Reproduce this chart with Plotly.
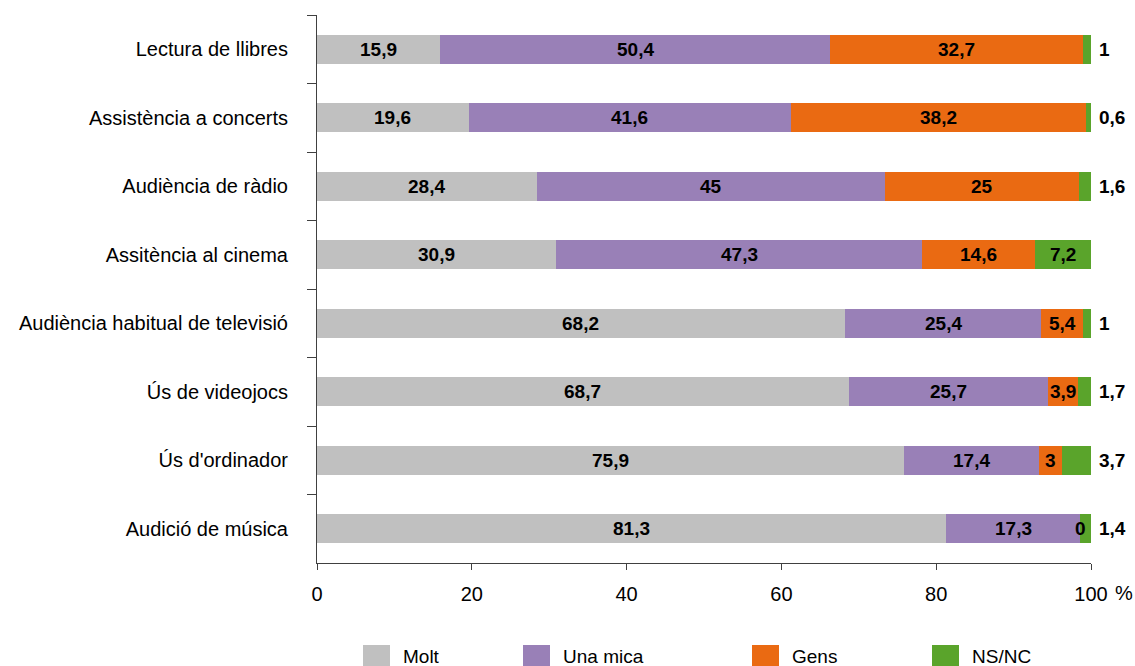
import plotly.graph_objects as go

categories = [
    "Lectura de llibres",
    "Assistència a concerts",
    "Audiència de ràdio",
    "Assitència al cinema",
    "Audiència habitual de televisió",
    "Ús de videojocs",
    "Ús d'ordinador",
    "Audició de música",
]
molt = [15.9, 19.6, 28.4, 30.9, 68.2, 68.7, 75.9, 81.3]
una_mica = [50.4, 41.6, 45, 47.3, 25.4, 25.7, 17.4, 17.3]
gens = [32.7, 38.2, 25, 14.6, 5.4, 3.9, 3, 0]
nsnc = [1, 0.6, 1.6, 7.2, 1, 1.7, 3.7, 1.4]
x_ticks = [0, 20, 40, 60, 80, 100]

series = [
    ("Molt", molt, "#C0C0C0"),
    ("Una mica", una_mica, "#9980B7"),
    ("Gens", gens, "#EA6A12"),
    ("NS/NC", nsnc, "#5AA42B"),
]

FONT = "Liberation Sans, Arial, sans-serif"
W, H = 1135, 666
ML, MR, MT, MB = 317, 44, 15, 103
PW, PH = W - ML - MR, H - MT - MB


def fmt(v):
    if float(v).is_integer():
        return str(int(v))
    return str(v).replace(".", ",")


def px_x(px):
    return (px - ML) / PW


def px_y(py):
    return (H - MB - py) / PH


fig = go.Figure()
for name, vals, col in series:
    fig.add_trace(go.Bar(
        y=categories, x=vals, name=name, orientation="h",
        marker=dict(color=col, line=dict(width=0)),
        showlegend=False,
    ))

annotations = []
for i, cat in enumerate(categories):
    start = 0
    for name, vals, col in series:
        v = vals[i]
        if name == "NS/NC" and v < 5:
            annotations.append(dict(
                x=100, y=cat, xref="x", yref="y", text="<b>%s</b>" % fmt(v),
                showarrow=False, xanchor="left", xshift=6,
                font=dict(family=FONT, size=19, color="black"),
            ))
        else:
            annotations.append(dict(
                x=start + v / 2, y=cat, xref="x", yref="y",
                text="<b>%s</b>" % fmt(v), showarrow=False, xanchor="center",
                font=dict(family=FONT, size=19, color="black"),
            ))
        start += v

# "%" unit next to the last tick label
annotations.append(dict(
    x=px_x(1113), y=px_y(593), xref="paper", yref="paper", text="%",
    showarrow=False, xanchor="left", yanchor="middle",
    font=dict(family=FONT, size=20, color="black"),
))

# manual legend (larger swatches as in the reference)
shapes = []
legend_x = [363, 523, 752, 932]
for (name, vals, col), lx in zip(series, legend_x):
    shapes.append(dict(
        type="rect", xref="paper", yref="paper",
        x0=px_x(lx), x1=px_x(lx + 27), y0=px_y(645), y1=px_y(668),
        fillcolor=col, line=dict(width=0), layer="above",
    ))
    annotations.append(dict(
        x=px_x(lx + 38), y=px_y(656), xref="paper", yref="paper", text=name,
        showarrow=False, xanchor="left", yanchor="middle",
        font=dict(family=FONT, size=19, color="black"),
    ))

fig.update_layout(
    barmode="stack",
    bargap=0.577,
    width=W, height=H,
    margin=dict(l=ML, r=MR, t=MT, b=MB, autoexpand=False),
    paper_bgcolor="white", plot_bgcolor="white",
    font=dict(family=FONT, size=20, color="black"),
    annotations=annotations,
    shapes=shapes,
    showlegend=False,
    xaxis=dict(
        range=[0, 100], tickvals=x_ticks,
        showgrid=False, zeroline=False, showline=True, linecolor="#404040",
        linewidth=1, ticks="outside", ticklen=6, tickcolor="#404040",
        tickfont=dict(family=FONT, size=20, color="black"),
        ticklabelstandoff=7,
        fixedrange=True,
    ),
    yaxis=dict(
        categoryorder="array", categoryarray=categories, autorange="reversed",
        showgrid=False, zeroline=False, showline=True, linecolor="#404040",
        linewidth=1, ticks="outside", ticklen=9, tickcolor="#404040",
        tickson="boundaries", ticklabelstandoff=24,
        tickfont=dict(family=FONT, size=20, color="black"),
        fixedrange=True,
    ),
)

fig.write_html(
    "out.html",
    config={"displayModeBar": False},
    post_script="document.body.style.margin='0';document.body.style.padding='0';",
)
